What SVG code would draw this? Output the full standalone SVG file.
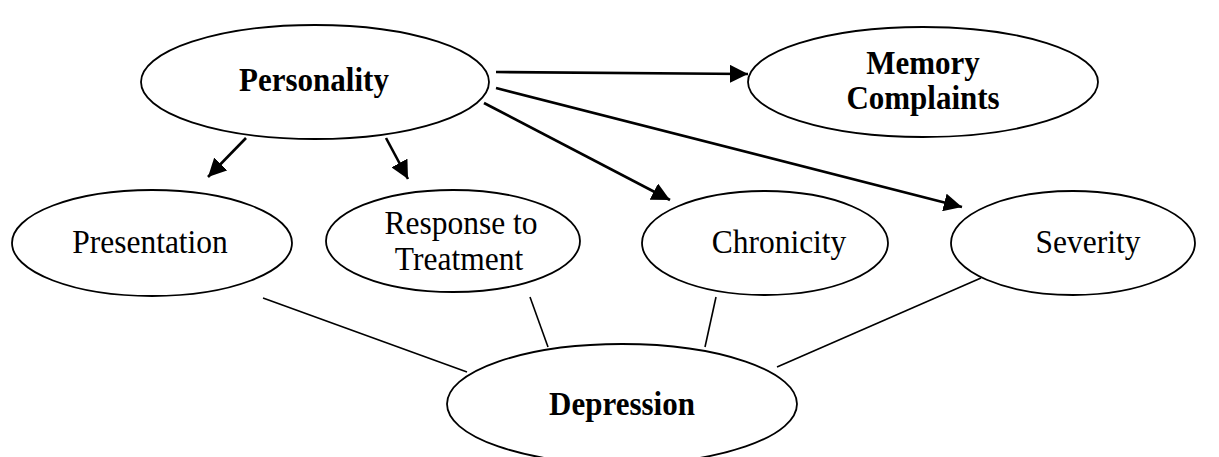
<svg xmlns="http://www.w3.org/2000/svg" width="1219" height="457" viewBox="0 0 1219 457">
<style>
.node ellipse{fill:#fff;stroke:#000;stroke-width:1.8}
.b{font-family:"Liberation Serif","Times New Roman",serif;font-weight:bold;font-size:31px;fill:#000;text-anchor:middle}
.r{font-family:"Liberation Serif","Times New Roman",serif;font-size:31.5px;fill:#000;text-anchor:middle}
.arr{stroke:#000;stroke-width:2.6;fill:none;marker-end:url(#ah)}
.ln{stroke:#000;stroke-width:1.6;fill:none}
</style>
<defs>
<marker id="ah" viewBox="0 0 10 10" refX="10" refY="5" markerWidth="7" markerHeight="7" orient="auto" markerUnits="strokeWidth">
<path d="M0,0 L10,5 L0,10 z" fill="#000"/>
</marker>
</defs>
<g id="connectors">
<line class="arr" x1="496" y1="72" x2="748" y2="74"/>
<line class="arr" x1="246" y1="138" x2="208" y2="177"/>
<line class="arr" x1="386" y1="138" x2="408" y2="179"/>
<line class="arr" x1="484" y1="103" x2="670" y2="200"/>
<line class="arr" x1="496" y1="88" x2="962" y2="207"/>
<line class="ln" x1="263" y1="298" x2="467" y2="372"/>
<line class="ln" x1="530" y1="297" x2="548" y2="347"/>
<line class="ln" x1="716" y1="297" x2="705" y2="347"/>
<line class="ln" x1="981" y1="278" x2="777" y2="367"/>
</g>
<g id="personality" class="node">
<ellipse cx="315" cy="82" rx="174" ry="57"/>
<text class="b" transform="translate(314,91) scale(1,1.1)">Personality</text>
</g>
<g id="memory" class="node">
<ellipse cx="923" cy="82" rx="175" ry="55"/>
<text class="b" transform="translate(923,74) scale(1,1.1)">Memory</text>
<text class="b" transform="translate(923,109) scale(1,1.1)">Complaints</text>
</g>
<g id="presentation" class="node">
<ellipse cx="152" cy="243" rx="140" ry="53"/>
<text class="r" transform="translate(150,253) scale(1,1.1)">Presentation</text>
</g>
<g id="response" class="node">
<ellipse cx="453" cy="241" rx="127" ry="51"/>
<text class="r" transform="translate(461,234) scale(1,1.1)">Response to</text>
<text class="r" transform="translate(459,270) scale(1,1.1)">Treatment</text>
</g>
<g id="chronicity" class="node">
<ellipse cx="765" cy="243" rx="123" ry="52"/>
<text class="r" transform="translate(779,253) scale(1,1.1)">Chronicity</text>
</g>
<g id="severity" class="node">
<ellipse cx="1073" cy="243" rx="122" ry="52"/>
<text class="r" transform="translate(1088,253) scale(1,1.1)">Severity</text>
</g>
<g id="depression" class="node">
<ellipse cx="622" cy="404" rx="175" ry="60"/>
<text class="b" transform="translate(622,415) scale(1,1.1)">Depression</text>
</g>
</svg>
